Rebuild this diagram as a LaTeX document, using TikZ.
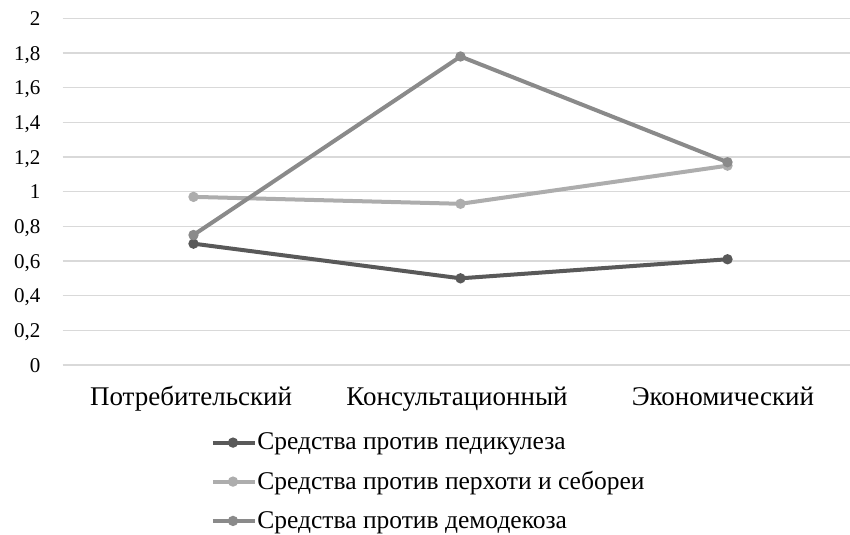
\documentclass[tikz,border=0pt]{standalone}
\usepackage{fontspec}
\setmainfont{Liberation Serif}
\usepackage{xcolor}
\usetikzlibrary{positioning}
\definecolor{pedcol}{HTML}{595959}
\definecolor{percol}{HTML}{ADADAD}
\definecolor{demcol}{HTML}{8A8A8A}
\definecolor{gridcol}{HTML}{D9D9D9}
\tikzstyle{gridline} = [draw=gridcol, line width=0.6pt]
\tikzstyle{series} = [line width=2pt]
\tikzstyle{dot} = [circle, inner sep=0pt, minimum size=5.2pt]
\tikzstyle{ticklabel} = [anchor=base east, inner sep=0pt, yshift=-3.6pt, font=\fontsize{10.5}{12}\selectfont]
\tikzstyle{catlabel} = [anchor=base, inner sep=0pt, font=\fontsize{13.5}{16}\selectfont]
\tikzstyle{legtext} = [anchor=base west, inner sep=0pt, font=\fontsize{12.75}{15}\selectfont]

\begin{document}
\begin{tikzpicture}[x=133.5pt, y=86.65pt]
		\useasboundingbox (-0.2247,-0.981) rectangle (2.9588,2.106);
		% grid and value axis
		\foreach \v/\t [count=\i] in {0/0, 0.2/{0,2}, 0.4/{0,4}, 0.6/{0,6}, 0.8/{0,8}, 1/1, 1.2/{1,2}, 1.4/{1,4}, 1.6/{1,6}, 1.8/{1,8}, 2/2} {
			\draw [gridline] (0.01,\v) -- (2.9588,\v);
			\node (tick\i) [ticklabel] at (-0.072,\v) {\t};
		}
		
		% categories
		\node (potr) [catlabel] at (0.491,-0.231) {Потребительский};
		\node (kons) [catlabel] at (1.487,-0.231) {Консультационный};
		\node (ekon) [catlabel] at (2.483,-0.231) {Экономический};
		
		% series
		\node (ped1) [dot, fill=pedcol] at (0.5,0.70) {};
		\node (ped2) [dot, fill=pedcol] at (1.5,0.50) {};
		\node (ped3) [dot, fill=pedcol] at (2.5,0.61) {};
		\draw [series, pedcol] (ped1.center) -- (ped2.center) -- (ped3.center);
		
		\node (per1) [dot, fill=percol] at (0.5,0.97) {};
		\node (per2) [dot, fill=percol] at (1.5,0.93) {};
		\node (per3) [dot, fill=percol] at (2.5,1.15) {};
		\draw [series, percol] (per1.center) -- (per2.center) -- (per3.center);
		
		\node (dem1) [dot, fill=demcol] at (0.5,0.75) {};
		\node (dem2) [dot, fill=demcol] at (1.5,1.78) {};
		\node (dem3) [dot, fill=demcol] at (2.5,1.17) {};
		\draw [series, demcol] (dem1.center) -- (dem2.center) -- (dem3.center);
		
		% legend
		\node (leg1) [legtext] at (0.738,-0.486) {Средства против педикулеза};
		\node (leg2) [legtext] at (0.738,-0.717) {Средства против перхоти и себореи};
		\node (leg3) [legtext] at (0.738,-0.942) {Средства против демодекоза};
		\coordinate (leg1a) at (0.573,-0.448);
		\coordinate (leg1b) at (0.730,-0.448);
		\coordinate (leg2a) at (0.573,-0.673);
		\coordinate (leg2b) at (0.730,-0.673);
		\coordinate (leg3a) at (0.573,-0.900);
		\coordinate (leg3b) at (0.730,-0.900);
		\node (legdot1) [dot, fill=pedcol] at (0.648,-0.448) {};
		\node (legdot2) [dot, fill=percol] at (0.648,-0.673) {};
		\node (legdot3) [dot, fill=demcol] at (0.648,-0.900) {};
		\draw [series, pedcol] (leg1a) -- (leg1b);
		\draw [series, percol] (leg2a) -- (leg2b);
		\draw [series, demcol] (leg3a) -- (leg3b);
	\end{tikzpicture}
\end{document}
